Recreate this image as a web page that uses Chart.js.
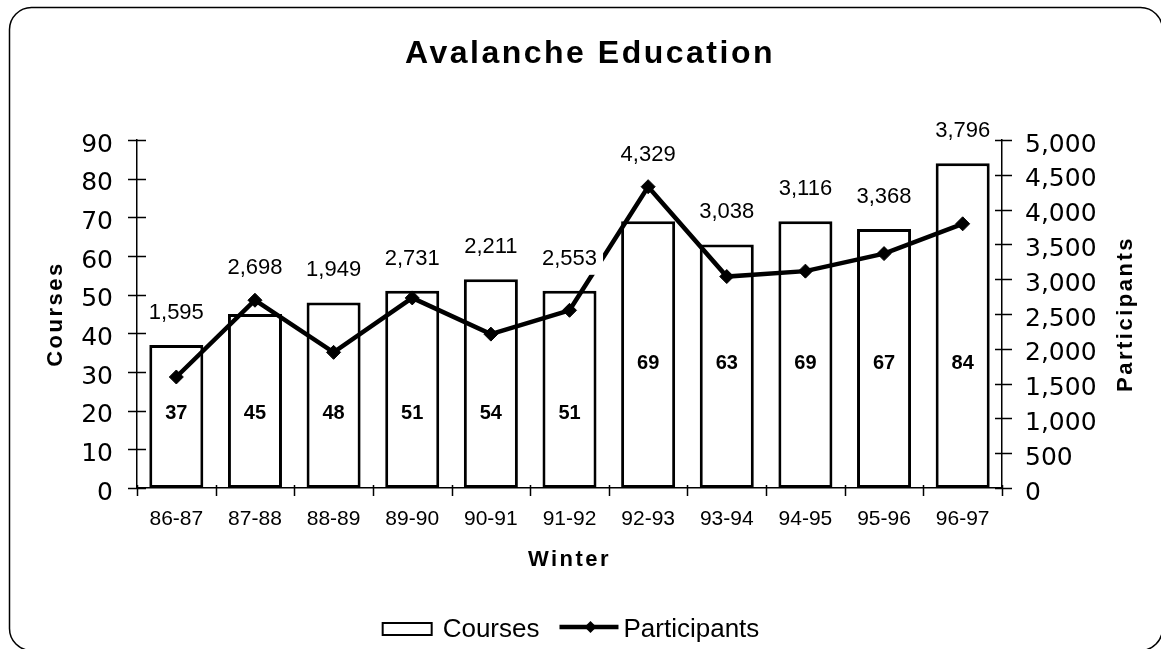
<!DOCTYPE html>
<html>
<head>
<meta charset="utf-8">
<script src="https://cdn.jsdelivr.net/npm/chart.js@4.4.1/dist/chart.umd.min.js"></script>
<style>
  html, body { margin: 0; padding: 0; background: #fff; }
  #wrap { width: 1161px; height: 649px; }
</style>
</head>
<body>
<div id="wrap"><canvas id="chart" width="1161" height="649"></canvas></div>
<script>
// data
const winters = ["86-87", "87-88", "88-89", "89-90", "90-91", "91-92", "92-93", "93-94", "94-95", "95-96", "96-97"];
const courses = [37, 45, 48, 51, 54, 51, 69, 63, 69, 67, 84];
const participants = [1595, 2698, 1949, 2731, 2211, 2553, 4329, 3038, 3116, 3368, 3796];
const courseTicks = [0, 10, 20, 30, 40, 50, 60, 70, 80, 90];
const participantTicks = [0, 500, 1000, 1500, 2000, 2500, 3000, 3500, 4000, 4500, 5000];

const FONT = '"Liberation Sans", Arial, sans-serif';
const TICK_FONT = '"DejaVu Sans", sans-serif';

function boxedText(ctx, text, x, y) {
  const w = ctx.measureText(text).width;
  ctx.fillStyle = "#fff";
  ctx.fillRect(x - w / 2 - 6, y - 16, w + 12, 32);
  ctx.fillStyle = "#000";
  ctx.fillText(text, x, y);
}

const decor = {
  id: "decor",
  beforeDraw(chart) {
    const ctx = chart.ctx;
    ctx.save();
    ctx.fillStyle = "#fff";
    ctx.fillRect(0, 0, chart.width, chart.height);
    // frame runs off the right and bottom edges, like the scan
    ctx.strokeStyle = "#000";
    ctx.lineWidth = 1.5;
    ctx.beginPath();
    ctx.roundRect(9.5, 7.5, 1153, 643, 22);
    ctx.stroke();
    ctx.restore();
  },
  afterDatasetsDraw(chart) {
    const ctx = chart.ctx;
    const bars = chart.getDatasetMeta(0).data;
    const pts = chart.getDatasetMeta(1).data;
    ctx.save();
    ctx.textAlign = "center";
    ctx.textBaseline = "middle";
    // participants above the higher of bar / point
    ctx.font = "22px " + FONT;
    participants.forEach((v, i) => {
      const top = Math.min(bars[i].y, pts[i].y);
      boxedText(ctx, v.toLocaleString("en-US"), bars[i].x, top - 32);
    });
    // course counts inside bars
    ctx.font = "bold 20px " + FONT;
    courses.forEach((v, i) => {
      const b = bars[i];
      boxedText(ctx, String(v), b.x, b.base - (v >= 60 ? 125 : 75));
    });
    ctx.restore();
  },
  afterDraw(chart) {
    const ctx = chart.ctx;
    const { left, right, top, bottom } = chart.chartArea;
    const { x, y, y1 } = chart.scales;
    ctx.save();
    ctx.strokeStyle = "#000";
    ctx.lineWidth = 1.5;
    ctx.beginPath();
    y.ticks.forEach((t, i) => {
      const py = Math.round(y.getPixelForTick(i)) + 0.5;
      ctx.moveTo(left - 9, py); ctx.lineTo(left + 9, py);
    });
    y1.ticks.forEach((t, i) => {
      const py = Math.round(y1.getPixelForTick(i)) + 0.5;
      ctx.moveTo(right - 7, py); ctx.lineTo(right + 10, py);
    });
    for (let i = 0; i <= winters.length; i++) {
      const px = Math.round(x.getPixelForValue(i - 0.5)) + 0.5;
      ctx.moveTo(px, bottom - 3); ctx.lineTo(px, bottom + 8);
    }
    ctx.stroke();

    // titles
    ctx.fillStyle = "#000";
    ctx.textAlign = "center";
    ctx.textBaseline = "alphabetic";
    ctx.font = "bold 32px " + FONT;
    ctx.letterSpacing = "2.5px";
    ctx.fillText("Avalanche Education", 590, 63);

    ctx.font = "bold 22px " + FONT;
    ctx.letterSpacing = "2.5px";
    ctx.fillText("Winter", (left + right) / 2, 566);
    const midY = (top + bottom) / 2;
    ctx.save();
    ctx.translate(62, midY);
    ctx.rotate(-Math.PI / 2);
    ctx.fillText("Courses", 0, 0);
    ctx.restore();
    ctx.save();
    ctx.translate(1132, midY);
    ctx.rotate(-Math.PI / 2);
    ctx.fillText("Participants", 0, 0);
    ctx.restore();

    // legend
    ctx.letterSpacing = "0px";
    ctx.font = "26px " + FONT;
    ctx.textAlign = "left";
    const w1 = ctx.measureText("Courses").width;
    const w2 = ctx.measureText("Participants").width;
    const total = 51 + 10 + w1 + 20 + 59 + 5 + w2;
    let lx = (left + right) / 2 + 1 - total / 2;
    const ly = 629;
    ctx.lineWidth = 2;
    ctx.strokeRect(lx + 1, ly - 6, 49, 12);
    lx += 61;
    ctx.fillText("Courses", lx, 637);
    lx += w1 + 20;
    ctx.lineWidth = 4.5;
    ctx.beginPath();
    ctx.moveTo(lx, ly - 2); ctx.lineTo(lx + 59, ly - 2);
    ctx.stroke();
    ctx.beginPath();
    const dx = lx + 31, dy = ly - 2;
    ctx.moveTo(dx, dy - 6); ctx.lineTo(dx + 6, dy); ctx.lineTo(dx, dy + 6); ctx.lineTo(dx - 6, dy);
    ctx.closePath();
    ctx.fill();
    lx += 64;
    ctx.fillText("Participants", lx, 637);
    ctx.restore();
  }
};

const axisLine = { display: true, color: "#000", width: 1.5 };

new Chart(document.getElementById("chart"), {
  type: "bar",
  data: {
    labels: winters,
    datasets: [
      {
        label: "Courses",
        data: courses,
        yAxisID: "y",
        backgroundColor: "#fff",
        borderColor: "#000",
        borderWidth: 3,
        borderSkipped: false,
        barPercentage: 0.687,
        categoryPercentage: 1,
        order: 1
      },
      {
        type: "line",
        label: "Participants",
        data: participants,
        yAxisID: "y1",
        borderColor: "#000",
        borderWidth: 4.5,
        pointStyle: "rectRot",
        pointRadius: 7,
        pointBackgroundColor: "#000",
        pointBorderColor: "#000",
        pointBorderWidth: 1,
        tension: 0,
        order: 0
      }
    ]
  },
  options: {
    responsive: false,
    animation: false,
    devicePixelRatio: 1,
    layout: { padding: { left: 10, right: 10, top: 140, bottom: 101 } },
    plugins: {
      legend: { display: false },
      title: { display: false },
      tooltip: { enabled: false }
    },
    scales: {
      x: {
        offset: true,
        grid: { display: false, drawTicks: false },
        border: axisLine,
        ticks: { color: "#000", font: { family: FONT, size: 21 }, padding: 19, maxRotation: 0, autoSkip: false },
        afterFit(s) { s.height = 60; }
      },
      y: {
        position: "left",
        min: 0,
        max: 90,
        grid: { display: false, drawTicks: false },
        border: axisLine,
        ticks: { color: "#000", font: { family: TICK_FONT, size: 25 }, padding: 24, labelOffset: 5 },
        afterBuildTicks(s) { s.ticks = courseTicks.map(v => ({ value: v })); },
        afterFit(s) { s.width = 127; }
      },
      y1: {
        position: "right",
        min: 0,
        max: 5000,
        grid: { display: false, drawTicks: false },
        border: axisLine,
        ticks: {
          color: "#000",
          font: { family: TICK_FONT, size: 25 },
          padding: 23,
          labelOffset: 5,
          callback: v => v.toLocaleString("en-US")
        },
        afterBuildTicks(s) { s.ticks = participantTicks.map(v => ({ value: v })); },
        afterFit(s) { s.width = 149; }
      }
    }
  },
  plugins: [decor]
});
</script>
</body>
</html>
